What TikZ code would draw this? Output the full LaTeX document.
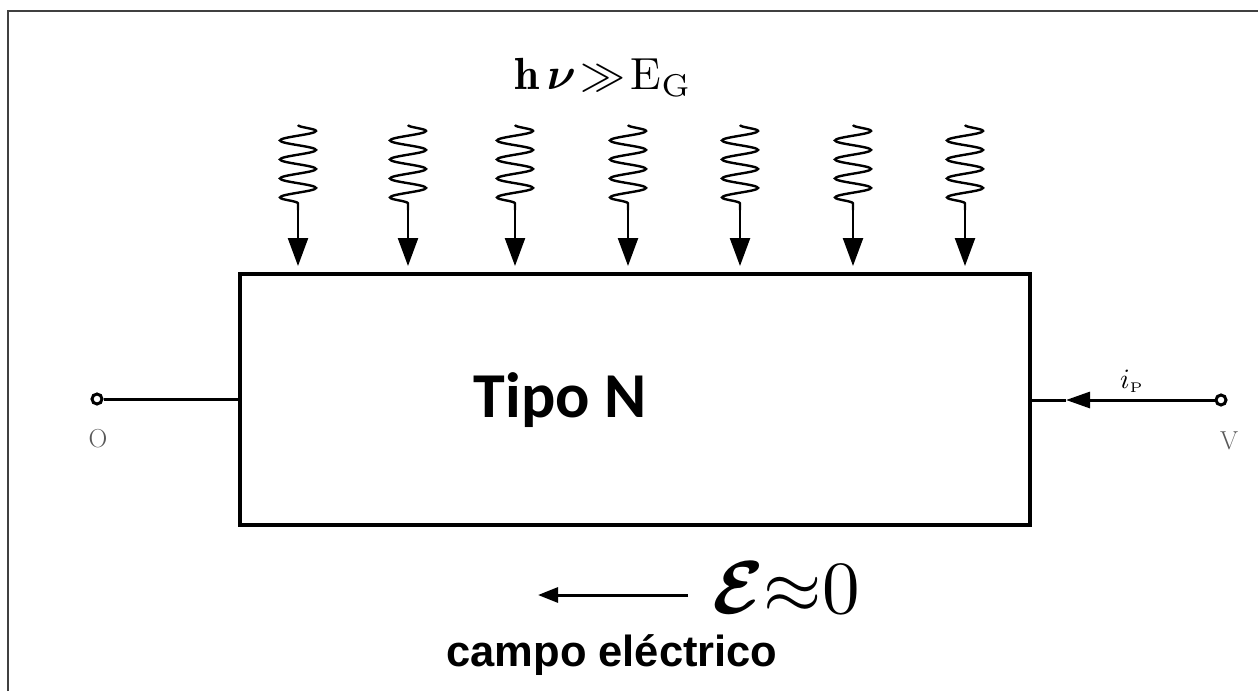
\documentclass[tikz,border=0pt]{standalone}
\usepackage{amsmath,amssymb}
\usepackage{graphicx}
\usepackage{fontspec}
\newfontfamily\carlito{Carlito}
\newfontfamily\arialx{Liberation Sans}
\usetikzlibrary{arrows.meta,decorations.pathmorphing}
\begin{document}
\begin{tikzpicture}[x=1pt,y=-1pt,
  wire/.style={line width=3pt},
  term/.style={circle,draw,line width=3pt,inner sep=0pt,minimum size=10pt,fill=white},
  photon/.style={line width=2.4pt,decorate,decoration={snake,amplitude=18pt,segment length=19pt}},
  phead/.style={line width=2.4pt,-{Triangle[length=28pt,width=20pt]}},
  graylbl/.style={text=black!65,font=\fontsize{26}{26}\selectfont},
]
\useasboundingbox (0,0) rectangle (1258,691);
\draw[line width=1.6pt,black!75] (8,691) -- (8,11) -- (1258,11);

% box
\node[draw,line width=4pt,minimum width=790pt,minimum height=251pt,inner sep=0pt] (box) at (635,399.5) {};
\node[font=\carlito\bfseries\fontsize{64}{64}\selectfont] (tipo) at (560,400) {Tipo N};

% terminals
\node[term] (o) at (97,399) {};
\node[graylbl] (olbl) at (98,439) {O};
\node[term] (v) at (1221,400) {};
\node[graylbl] (vlbl) at (1229,441) {V};
\draw[wire] (o) -- (box.west |- o);
\coordinate (ipa) at (1066,400);
\draw[wire,-{Triangle[length=24pt,width=16pt]}] (v) -- (ipa);
\draw[wire] (ipa) -- (box.east |- ipa);
\node (ip) at (1132,381) {\scalebox{2.8}{$i_{\scriptscriptstyle\mathrm{P}}$}};

% photons
\foreach \i/\x in {1/298,2/408,3/515,4/628,5/740,6/853,7/965}{
  \coordinate (pt\i) at (\x,125);
  \coordinate (pm\i) at (\x,210);
  \coordinate (pb\i) at (\x,266);
  \draw[photon] (pt\i) -- (pm\i);
  \draw[phead] (pm\i) -- (pb\i);
}
\node (hv) at (603,78) {\scalebox{4.5}{$\mathbf{h}\,\boldsymbol{\nu}\!\gg\! \mathrm{E}_{\mathrm{G}}$}};

% field
\coordinate (fa) at (688,595);
\coordinate (fb) at (538,595);
\draw[line width=3pt,-{Triangle[length=20pt,width=15pt]}] (fa) -- (fb);
\node (eps) at (786,588) {\scalebox{7.5}{$\boldsymbol{\mathcal{E}}{\approx}0$}};
\node[font=\arialx\bfseries\fontsize{43.5}{44}\selectfont] (campo) at (612,655) {campo eléctrico};
\end{tikzpicture}
\end{document}
